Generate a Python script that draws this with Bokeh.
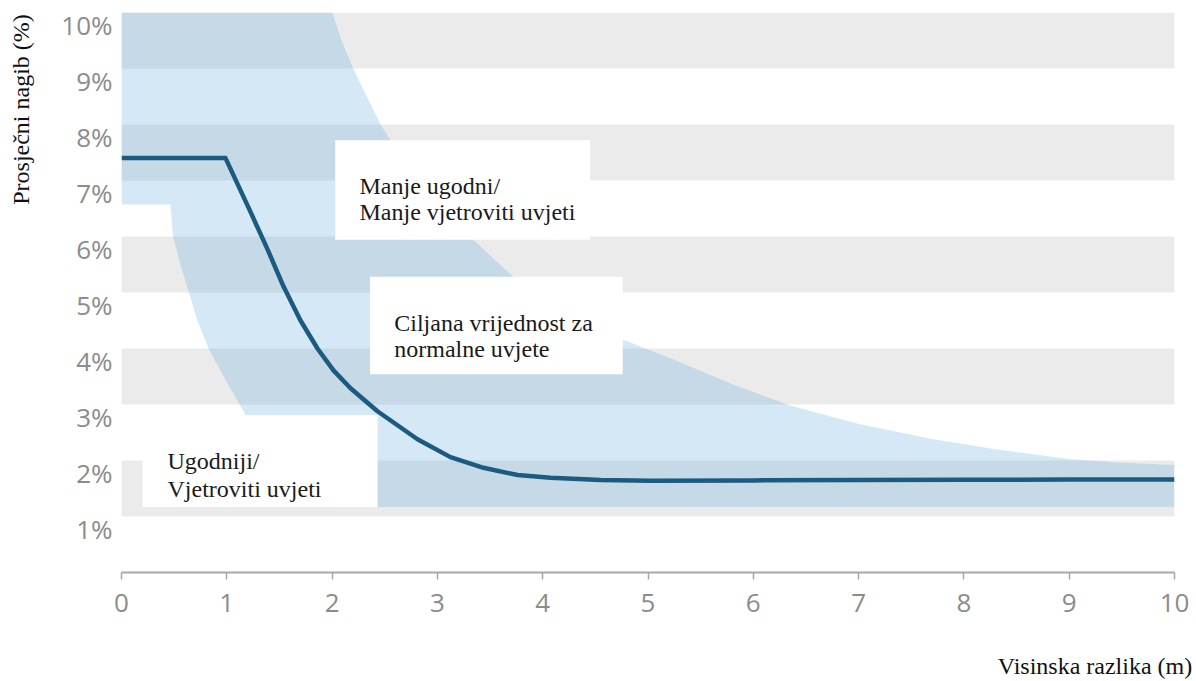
from bokeh.plotting import figure
from bokeh.models import FixedTicker, CustomJSTickFormatter, BoxAnnotation, Label, Range1d, LinearAxis
from bokeh.embed import file_html
from bokeh.resources import INLINE

# ---- data ----
x_ticks = [0, 1, 2, 3, 4, 5, 6, 7, 8, 9, 10]
y_ticks = [1, 2, 3, 4, 5, 6, 7, 8, 9, 10]

# target curve (Ciljana vrijednost)
line_x = [0, 0.988, 1.225, 1.387, 1.538, 1.70, 1.861, 2.013, 2.175, 2.431, 2.811, 3.124, 3.438, 3.761, 4.074, 4.549, 5.024, 6.0, 7.0, 8.0, 9.0, 10.0]
line_y = [7.40, 7.40, 6.44, 5.77, 5.11, 4.50, 4.00, 3.61, 3.29, 2.88, 2.38, 2.06, 1.87, 1.74, 1.69, 1.65, 1.64, 1.645, 1.65, 1.655, 1.66, 1.66]

# light-blue corridor: upper edge (left -> right)
upper_x = [0, 2.0, 2.1, 2.2, 2.33, 2.46, 2.7, 3.0, 3.34, 3.72, 4.2, 4.76, 5.3, 5.8, 6.35, 7.0, 7.71, 8.3, 8.98, 9.5, 10.0]
upper_y = [10, 10, 9.45, 9.0, 8.5, 8.0, 7.3, 6.6, 5.94, 5.28, 4.68, 4.16, 3.76, 3.36, 2.98, 2.65, 2.38, 2.2, 2.03, 1.96, 1.92]
# lower edge (right -> left)
lower_x = [10.0, 2.43, 2.43, 1.18, 1.0, 0.83, 0.72, 0.64, 0.56, 0.49, 0.465, 0]
lower_y = [1.17, 1.17, 2.81, 2.81, 3.4, 3.99, 4.5, 5.0, 5.5, 6.0, 6.57, 6.57]

# grey background stripes
band_bottom = [9, 7, 5, 3, 1]
band_top = [10, 8, 6, 4, 2]

# text boxes
box_manje = dict(left=2.03, right=4.45, bottom=5.94, top=7.72,
                 lines=["Manje ugodni/", "Manje vjetroviti uvjeti"], tx=2.26, ty=[6.9, 6.43])
box_cilj = dict(left=2.36, right=4.76, bottom=3.54, top=5.28,
                lines=["Ciljana vrijednost za", "normalne uvjete"], tx=2.59, ty=[4.46, 4.0])
box_ugod = dict(left=0.20, right=2.43, bottom=1.17, top=2.81,
                lines=["Ugodniji/", "Vjetroviti uvjeti"], tx=0.437, ty=[1.985, 1.50])

y_title = "Prosječni nagib (%)"
x_title = "Visinska razlika (m)"

SERIF = "Liberation Serif"
SANS = "Open Sans"
NBSP = "\u00a0"

p = figure(width=1196, height=681, output_backend="svg", toolbar_location=None,
           x_range=Range1d(0, 10), y_range=Range1d(0, 10),
           min_border_left=121, min_border_right=22, min_border_top=12, min_border_bottom=106)
p.outline_line_color = None
p.xgrid.visible = False
p.ygrid.visible = False
p.background_fill_color = "white"

# stripes
for b, t in zip(band_bottom, band_top):
    p.add_layout(BoxAnnotation(left=0, right=10, bottom=b, top=t, fill_color="#ebebeb",
                               fill_alpha=1.0, line_color=None, level="underlay"))

# corridor
p.patch(upper_x + lower_x, upper_y + lower_y, fill_color="#53a7d7", fill_alpha=0.25, line_color=None)

# target line
p.line(line_x, line_y, line_color="#1d5a80", line_width=4.5, line_join="round")

# text boxes
for bx in (box_manje, box_cilj, box_ugod):
    p.add_layout(BoxAnnotation(left=bx["left"], right=bx["right"], bottom=bx["bottom"], top=bx["top"],
                               fill_color="white", fill_alpha=1.0, line_color=None))
for bx in (box_manje, box_cilj, box_ugod):
    for line, ty in zip(bx["lines"], bx["ty"]):
        p.add_layout(Label(x=bx["tx"], y=ty, text=line, text_font=SERIF, text_font_size="24px",
                           text_color="#1a1a1a", text_align="left", text_baseline="alphabetic"))

# axes
xa = p.xaxis[0]
xa.ticker = FixedTicker(ticks=x_ticks)
xa.axis_line_color = "#a8a8a8"
xa.axis_line_width = 2
xa.major_tick_line_color = "#a8a8a8"
xa.major_tick_line_width = 1.5
xa.major_tick_out = 7
xa.major_tick_in = 0
xa.minor_tick_line_color = None
xa.major_label_text_font = SANS
xa.major_label_text_font_size = "26px"
xa.major_label_text_color = "#8c8c8c"
xa.major_label_standoff = 14

ya = p.yaxis[0]
# labels sit just below the stripe edge they belong to
ya.ticker = FixedTicker(ticks=[t - 0.23 for t in y_ticks])
ya.formatter = CustomJSTickFormatter(code="return Math.round(tick + 0.23) + '%';")
ya.axis_line_color = None
ya.major_tick_line_color = None
ya.minor_tick_line_color = None
ya.major_tick_out = 0
ya.major_tick_in = 0
ya.major_label_text_font = SANS
ya.major_label_text_font_size = "26px"
ya.major_label_text_color = "#8c8c8c"
ya.major_label_standoff = 9


# axis titles: carried by bare extra axes; leading no-break spaces push the
# centred title towards the far end of the axis (right / top), as in the original
def title_axis(text, pad, standoff):
    ax = LinearAxis(ticker=FixedTicker(ticks=[]), axis_label=NBSP * pad + text)
    ax.axis_line_color = None
    ax.major_tick_line_color = None
    ax.minor_tick_line_color = None
    ax.major_tick_out = 0
    ax.major_tick_in = 0
    ax.major_label_standoff = 0
    ax.axis_label_standoff = standoff
    ax.axis_label_text_font = SERIF
    ax.axis_label_text_font_size = "24px"
    ax.axis_label_text_font_style = "normal"
    ax.axis_label_text_color = "#111111"
    return ax


p.add_layout(title_axis(x_title, 149, 38), "below")
p.add_layout(title_axis(y_title, 61, 25), "left")

open("out.html", "w").write(file_html(p, INLINE))
